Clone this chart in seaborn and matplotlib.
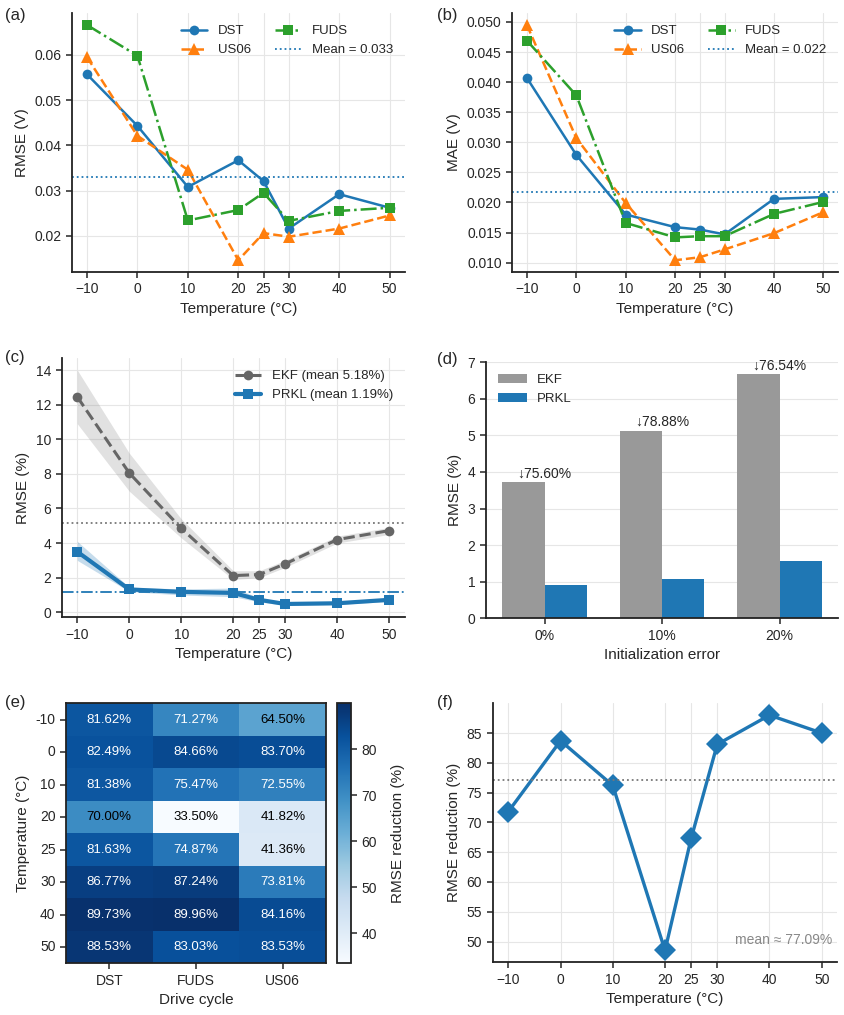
import numpy as np
import pandas as pd
import matplotlib
matplotlib.use("Agg")
import matplotlib.pyplot as plt
import seaborn as sns
from matplotlib.ticker import FormatStrFormatter

# ---------------- data ----------------
temps = [-10, 0, 10, 20, 25, 30, 40, 50]

# (a) RMSE (V)
rmse_dst = [0.0557, 0.0443, 0.0308, 0.0367, 0.0321, 0.0216, 0.0292, 0.0262]
rmse_us06 = [0.0595, 0.0421, 0.0346, 0.0146, 0.0206, 0.0198, 0.0216, 0.0245]
rmse_fuds = [0.0666, 0.0598, 0.0234, 0.0257, 0.0295, 0.0233, 0.0255, 0.0262]
rmse_mean = 0.033

# (b) MAE (V)
mae_dst = [0.0407, 0.0279, 0.0180, 0.0159, 0.0155, 0.0147, 0.0206, 0.0209]
mae_us06 = [0.0495, 0.0307, 0.0199, 0.0104, 0.0109, 0.0122, 0.0149, 0.0184]
mae_fuds = [0.0469, 0.0378, 0.0166, 0.0142, 0.0144, 0.0144, 0.0181, 0.0201]
mae_mean = 0.0218

# (c) SOC RMSE (%) with bands
ekf = [12.45, 8.05, 4.85, 2.12, 2.18, 2.80, 4.20, 4.72]
ekf_lo = [10.9, 7.0, 4.3, 1.9, 2.0, 2.6, 4.0, 4.5]
ekf_hi = [14.0, 9.2, 5.4, 2.4, 2.4, 3.0, 4.4, 4.9]
prkl = [3.50, 1.32, 1.18, 1.12, 0.72, 0.48, 0.52, 0.72]
prkl_lo = [3.0, 1.2, 1.0, 0.9, 0.6, 0.4, 0.45, 0.62]
prkl_hi = [4.1, 1.45, 1.35, 1.4, 0.85, 0.56, 0.6, 0.82]
ekf_mean = 5.18
prkl_mean = 1.19

# (d) initialization error
init_err = ["0%", "10%", "20%"]
bar_ekf = [3.72, 5.13, 6.68]
bar_prkl = [0.91, 1.08, 1.57]
bar_red = ["↓75.60%", "↓78.88%", "↓76.54%"]

# (e) heatmap
cycles = ["DST", "FUDS", "US06"]
heat_rows = ["-10", "0", "10", "20", "25", "30", "40", "50"]
heat_vals = [
    [81.62, 71.27, 64.50],
    [82.49, 84.66, 83.70],
    [81.38, 75.47, 72.55],
    [70.00, 33.50, 41.82],
    [81.63, 74.87, 41.36],
    [86.77, 87.24, 73.81],
    [89.73, 89.96, 84.16],
    [88.53, 83.03, 83.53],
]

# (f) mean reduction per temperature
reduction = [71.8, 83.7, 76.2, 48.5, 67.3, 83.1, 88.0, 85.0]
reduction_mean = 77.09

# ---------------- style ----------------
sns.set_theme(style="ticks")
plt.rcParams["font.family"] = ["Liberation Sans", "DejaVu Sans"]
plt.rcParams.update({
    "axes.labelsize": 11,
    "xtick.labelsize": 10,
    "ytick.labelsize": 10,
    "legend.fontsize": 9.5,
    "axes.edgecolor": "#222222",
    "axes.linewidth": 1.3,
    "xtick.major.width": 1.1,
    "ytick.major.width": 1.1,
    "xtick.major.size": 4,
    "ytick.major.size": 4,
})

blue, orange, green = "#1f77b4", "#ff7f0e", "#2ca02c"
grid_kw = dict(color="#e6e6e6", linewidth=0.8)

fig = plt.figure(figsize=(8.45, 10.15), dpi=100)
ax_a = fig.add_axes([0.085, 0.732, 0.394, 0.255])
ax_b = fig.add_axes([0.606, 0.732, 0.386, 0.255])
ax_c = fig.add_axes([0.073, 0.392, 0.406, 0.255])
ax_d = fig.add_axes([0.575, 0.391, 0.417, 0.252])
ax_e = fig.add_axes([0.078, 0.051, 0.308, 0.256])
cax = fig.add_axes([0.399, 0.051, 0.0165, 0.256])
ax_f = fig.add_axes([0.583, 0.052, 0.408, 0.255])


def temp_axis(ax):
    ax.set_xticks(temps)
    ax.set_xlabel("Temperature (°C)")
    ax.grid(True, **grid_kw)
    ax.set_axisbelow(True)
    sns.despine(ax=ax)


# (a) + (b)
for ax, dst, us, fu, mval, ylab, fmt in [
    (ax_a, rmse_dst, rmse_us06, rmse_fuds, rmse_mean, "RMSE (V)", "%.2f"),
    (ax_b, mae_dst, mae_us06, mae_fuds, mae_mean, "MAE (V)", "%.3f"),
]:
    sns.lineplot(x=temps, y=dst, ax=ax, color=blue, marker="o", markersize=7,
                 linewidth=1.8, linestyle="-", markeredgewidth=0, label="DST")
    sns.lineplot(x=temps, y=us, ax=ax, color=orange, marker="^", markersize=8,
                 linewidth=1.8, linestyle="--", markeredgewidth=0, label="US06")
    sns.lineplot(x=temps, y=fu, ax=ax, color=green, marker="s", markersize=7,
                 linewidth=1.8, linestyle="-.", markeredgewidth=0, label="FUDS")
    lab = "Mean = 0.033" if ax is ax_a else "Mean = 0.022"
    ax.axhline(mval, color=blue, linestyle=":", linewidth=1.3, label=lab)
    ax.legend(ncol=2, frameon=False, loc="upper right", columnspacing=1.8)
    ax.set_ylabel(ylab)
    ax.yaxis.set_major_formatter(FormatStrFormatter(fmt))
    temp_axis(ax)
ax_a.set_yticks([0.02, 0.03, 0.04, 0.05, 0.06])
ax_b.set_yticks([0.010, 0.015, 0.020, 0.025, 0.030, 0.035, 0.040, 0.045, 0.050])

# (c)
ax_c.fill_between(temps, ekf_lo, ekf_hi, color="#888888", alpha=0.25, linewidth=0)
ax_c.fill_between(temps, prkl_lo, prkl_hi, color=blue, alpha=0.25, linewidth=0)
sns.lineplot(x=temps, y=ekf, ax=ax_c, color="#666666", marker="o", markersize=7,
             linewidth=2.2, linestyle="--", markeredgewidth=0,
             label="EKF (mean 5.18%)")
sns.lineplot(x=temps, y=prkl, ax=ax_c, color=blue, marker="s", markersize=7,
             linewidth=3, linestyle="-", markeredgewidth=0,
             label="PRKL (mean 1.19%)")
ax_c.axhline(ekf_mean, color="#777777", linestyle=":", linewidth=1.3)
ax_c.axhline(prkl_mean, color=blue, linestyle="-.", linewidth=1.3)
ax_c.set_yticks(range(0, 15, 2))
ax_c.set_ylabel("RMSE (%)")
ax_c.legend(frameon=False, loc="upper right")
temp_axis(ax_c)

# (d)
bar_df = pd.DataFrame({
    "err": init_err * 2,
    "method": ["EKF"] * 3 + ["PRKL"] * 3,
    "rmse": bar_ekf + bar_prkl,
})
sns.barplot(data=bar_df, x="err", y="rmse", hue="method", ax=ax_d,
            palette={"EKF": "#999999", "PRKL": blue}, saturation=1,
            width=0.72, edgecolor="none")
for i, (h, t) in enumerate(zip(bar_ekf, bar_red)):
    ax_d.text(i, h + 0.05, t, ha="center", va="bottom", fontsize=10,
              family=["Liberation Sans", "DejaVu Sans"])
ax_d.set_ylim(0, 7)
ax_d.set_xlabel("Initialization error")
ax_d.set_ylabel("RMSE (%)")
ax_d.legend(frameon=False, loc="upper left", handlelength=2.2, handleheight=0.7)
ax_d.yaxis.grid(True, **grid_kw)
ax_d.set_axisbelow(True)
sns.despine(ax=ax_d)

# (e)
heat_df = pd.DataFrame(heat_vals, index=heat_rows, columns=cycles)
annot = heat_df.map(lambda v: f"{v:.2f}%")
sns.heatmap(heat_df, annot=annot, fmt="", cmap="Blues", ax=ax_e, cbar_ax=cax,
            annot_kws={"fontsize": 9.5},
            cbar_kws={"ticks": [40, 50, 60, 70, 80]})
for txt, v in zip(ax_e.texts, np.array(heat_vals).ravel()):
    txt.set_color("black" if v < 70.5 else "white")
for sp in ax_e.spines.values():
    sp.set_visible(True)
    sp.set_linewidth(1.3)
cbar = ax_e.collections[0].colorbar
cbar.outline.set_visible(True)
cbar.outline.set_edgecolor("#222222")
cbar.outline.set_linewidth(1.3)
cbar.set_label("RMSE reduction (%)", fontsize=11, labelpad=10)
cax.tick_params(labelsize=10, width=1.1, length=4)
ax_e.set_yticklabels(heat_rows, rotation=0)
ax_e.set_xlabel("Drive cycle")
ax_e.set_ylabel("Temperature (°C)")

# (f)
sns.lineplot(x=temps, y=reduction, ax=ax_f, color=blue, marker="D",
             markersize=11, linewidth=2.4, markeredgewidth=0)
ax_f.axhline(reduction_mean, color="#777777", linestyle=":", linewidth=1.3)
ax_f.text(0.985, 0.06, "mean ≈ 77.09%", transform=ax_f.transAxes, ha="right",
          va="bottom", color="#888888", fontsize=10,
          family=["Liberation Sans", "DejaVu Sans"])
ax_f.set_ylabel("RMSE reduction (%)")
ax_f.set_yticks(range(50, 90, 5))
temp_axis(ax_f)

# panel labels
for lbl, x, y in [("(a)", 0.006, 0.985), ("(b)", 0.517, 0.985),
                  ("(c)", 0.006, 0.648), ("(d)", 0.517, 0.646),
                  ("(e)", 0.006, 0.308), ("(f)", 0.517, 0.308)]:
    fig.text(x, y, lbl, fontsize=12, ha="left", va="center")

fig.savefig("out.png", dpi=100)
